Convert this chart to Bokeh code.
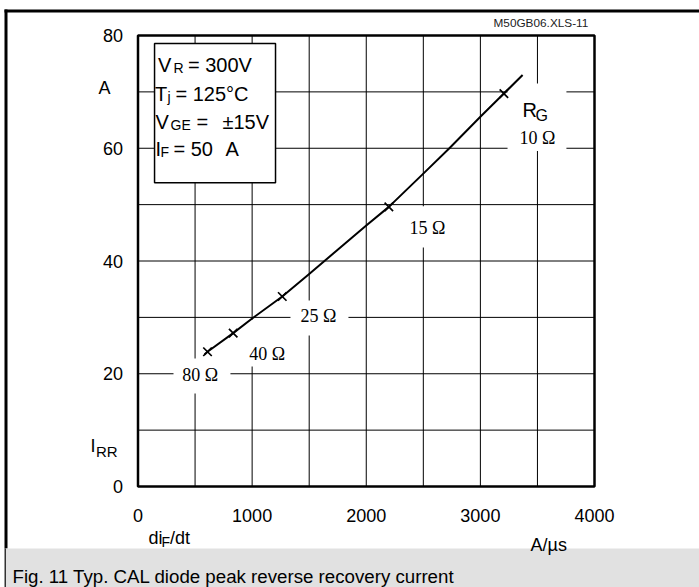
from bokeh.plotting import figure
from bokeh.models import Range1d, FixedTicker
from bokeh.core.properties import value
from bokeh.embed import file_html
from bokeh.resources import INLINE
import numpy as np

# Peak reverse recovery current I_RR [A] versus di_F/dt [A/us]
didt = [583, 609, 834, 1000, 1264, 1500, 2000, 2198, 2500, 2724, 3000, 3206, 3370]
irr = [23.4, 23.9, 27.2, 29.8, 33.7, 37.7, 46.3, 49.6, 55.5, 59.9, 65.6, 69.7, 73.0]

# Operating points for each gate resistor R_G
rg_names = ["80 Ω", "40 Ω", "25 Ω", "15 Ω", "10 Ω"]
rg_didt = [609, 834, 1264, 2198, 3206]
rg_irr = [23.9, 27.2, 33.7, 49.6, 69.7]

x_ticks = [0, 1000, 2000, 3000, 4000]
y_ticks = [0, 20, 40, 60, 80]

W, H = 699, 587
SANS = "Liberation Sans"
SERIF = "Liberation Serif"

# plot box on the page, in pixels
BOX_L, BOX_R, BOX_T, BOX_B = 137.5, 594.0, 35.0, 486.0
sx = (BOX_R - BOX_L) / (x_ticks[-1] - x_ticks[0])
sy = (BOX_B - BOX_T) / (y_ticks[-1] - y_ticks[0])

p = figure(width=W, height=H, output_backend="svg", toolbar_location=None,
           x_range=Range1d(x_ticks[0] - BOX_L / sx, x_ticks[-1] + (W - BOX_R) / sx),
           y_range=Range1d(y_ticks[0] - (H - BOX_B) / sy, y_ticks[-1] + BOX_T / sy),
           min_border=0, min_border_left=0, min_border_right=0,
           min_border_top=0, min_border_bottom=0)
# page coordinates (pixels, y downwards) for the sheet decoration
p.extra_x_ranges = {"px": Range1d(0, W)}
p.extra_y_ranges = {"py": Range1d(H, 0)}
p.background_fill_color = "white"
p.border_fill_color = "white"
p.outline_line_color = None
p.xgrid.visible = False
p.ygrid.visible = False

for ax, ticks, loc, standoff in ((p.xaxis, x_ticks, y_ticks[0], 22),
                                 (p.yaxis, y_ticks, x_ticks[0], 15)):
    ax.ticker = FixedTicker(ticks=ticks)
    ax.fixed_location = loc
    ax.bounds = (ticks[0], ticks[-1])
    ax.axis_line_color = None
    ax.major_tick_line_color = None
    ax.minor_tick_line_color = None
    ax.major_tick_out = 0
    ax.major_tick_in = 0
    ax.major_label_standoff = standoff
    ax.major_label_text_font = SANS
    ax.major_label_text_font_size = "18px"
    ax.major_label_text_color = "black"

# grid every 500 A/us and 10 A
gx = np.arange(x_ticks[0] + 500, x_ticks[-1], 500)
gy = np.arange(y_ticks[0] + 10, y_ticks[-1], 10)
p.segment(x0=gx, x1=gx, y0=y_ticks[0], y1=y_ticks[-1], line_color="black", line_width=1)
p.segment(x0=x_ticks[0], x1=x_ticks[-1], y0=gy, y1=gy, line_color="black", line_width=1)

# white patches behind the resistor labels (they break the grid lines)
p.quad(left=[311, 898, 1336, 2283, 3238], right=[810, 1371, 1844, 2791, 3754],
       bottom=[16.5, 21.3, 26.8, 42.4, 59.5], top=[22.7, 29.6, 33.0, 49.7, 71.5],
       fill_color="white", line_color=None)

# plot box
p.quad(left=[x_ticks[0]], right=[x_ticks[-1]], bottom=[y_ticks[0]], top=[y_ticks[-1]],
       fill_color=None, line_color="black", line_width=2.5)

# conditions box
p.quad(left=[145], right=[1205], bottom=[53.9], top=[78.6],
       fill_color="white", line_color="black", line_width=1.5)

# curve and R_G marks
p.line(didt, irr, line_color="black", line_width=2, line_join="round")
p.scatter(rg_didt, rg_irr, marker="x", size=12, line_color="black", line_width=1.7)

# resistor labels
p.text(x=[545, 1131, 1582, 2537, 3500], y=[19.8, 23.5, 30.2, 45.9, 61.8], text=rg_names,
       text_font=value(SERIF), text_font_size="18px", text_color="black",
       text_align="center", text_baseline="middle")


def rich(x, y, parts, font=SANS, page=False):
    """Text made of pieces (text, dx px, dy px, size px) at one anchor."""
    extra = dict(x_range_name="px", y_range_name="py") if page else {}
    for txt, dx, dy, size in parts:
        p.text(x=[x], y=[y], text=[txt], x_offset=dx, y_offset=dy,
               text_font=value(font), text_font_size=f"{size}px", text_color="black",
               text_align="left", text_baseline="alphabetic", **extra)


rich(3369, 66.7, [("R", 0, 0, 20), ("G", 13, 5, 16)])

leg_x = 171
rich(leg_x, 74.68, [("V", 0.5, 0, 20), ("R", 16, 3, 14), ("= 300V", 30.5, 0, 20)])
rich(leg_x, 69.66, [("T", -2.5, 0, 20), ("j", 10, 3, 14), ("= 125°C", 18, 0, 20)])
rich(leg_x, 64.62, [("V", -2, 0, 20), ("GE", 13, 3, 14), ("=", 39, 0, 20), ("±15V", 65, 0, 20)])
rich(leg_x, 59.90, [("I", -2, 0, 20), ("F", 3, 3, 14), ("= 50", 16, 0, 20), ("A", 68, 0, 20)])

# sheet frame and caption band (page pixels)
page = dict(x_range_name="px", y_range_name="py")
p.quad(left=[4, 4, 4, 5.5], right=[W, 7, 5.5, W], top=[9, 9, 548, 548], bottom=[12, 548, H, H],
       fill_color=["black", "black", "#333333", "#e1e1e1"], line_color=None, **page)

# axis captions, file tag and figure caption
rich(98, 87.3, [("A", 0, 0, 18)], page=True)
rich(90, 445, [("I", 0, 0, 18), ("RR", 5.5, 6, 15)], page=True)
rich(148, 537, [("di", 0, 0, 18), ("F", 13, 4, 14), ("/dt", 21.5, 0, 18)], page=True)
rich(530, 544, [("A/µs", 0, 0, 18)], page=True)
p.text(x=[493], y=[22], text=["M50GB06.XLS-11"], text_font=value(SANS), text_font_size="11.8px",
       text_color="#222222", text_baseline="alphabetic", **page)
rich(12, 576, [("Fig. 11 Typ. CAL diode peak reverse recovery current", 0, 0, 18.7)], page=True)

open("out.html", "w").write(file_html(p, INLINE))
